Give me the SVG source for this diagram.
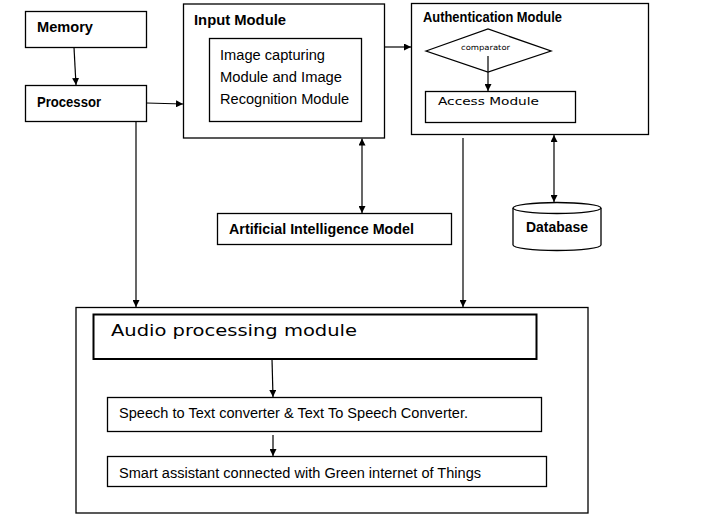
<svg xmlns="http://www.w3.org/2000/svg" width="702" height="523" viewBox="0 0 702 523">
<defs>
<marker id="ah" viewBox="0 0 10 10" refX="10" refY="5" markerWidth="7" markerHeight="7" markerUnits="userSpaceOnUse" orient="auto-start-reverse">
<path d="M0,0 L10,5 L0,10 Z" fill="#000"/>
</marker>
<style>
.box{fill:#fff;stroke:#000;stroke-width:1.3}
.b{font-family:"Liberation Sans",Arial,sans-serif;font-weight:bold;font-size:14px;fill:#000}
.n{font-family:"Liberation Sans",Arial,sans-serif;font-size:14px;fill:#000}
.v{font-family:"DejaVu Sans",Verdana,sans-serif;fill:#000}
.c{stroke:#000;stroke-width:1.2;fill:none}
</style>
</defs>
<rect width="702" height="523" fill="#fff"/>

<g id="memory">
<rect class="box" x="25.5" y="11.5" width="121" height="36"/>
<text class="b" x="37" y="32" textLength="56" lengthAdjust="spacingAndGlyphs">Memory</text>
</g>
<g id="processor">
<rect class="box" x="25.5" y="85.5" width="121" height="36"/>
<text class="b" x="37" y="107" textLength="64" lengthAdjust="spacingAndGlyphs">Processor</text>
</g>
<g id="input-module">
<rect class="box" x="183.5" y="4" width="201" height="134"/>
<text class="b" x="194" y="25" textLength="92" lengthAdjust="spacingAndGlyphs">Input Module</text>
<rect class="box" x="209.5" y="38.5" width="152" height="83"/>
<text class="n" x="220" y="60" textLength="105" lengthAdjust="spacingAndGlyphs">Image capturing</text>
<text class="n" x="220" y="82" textLength="122" lengthAdjust="spacingAndGlyphs">Module and Image</text>
<text class="n" x="220" y="104" textLength="129" lengthAdjust="spacingAndGlyphs">Recognition Module</text>
</g>
<g id="authentication-module">
<rect class="box" x="411.5" y="3.5" width="237" height="131"/>
<text class="b" x="423" y="22" font-size="13" textLength="139" lengthAdjust="spacingAndGlyphs">Authentication Module</text>
<polygon class="box" points="426,51 488,29 551,51 488,72"/>
<text class="v" x="461" y="50" font-size="7.5" textLength="49" lengthAdjust="spacingAndGlyphs">comparator</text>
<rect class="box" x="425.5" y="91.5" width="150" height="31"/>
<text class="v" x="438" y="105" font-size="10.5" textLength="101" lengthAdjust="spacingAndGlyphs">Access Module</text>
</g>
<g id="ai-model">
<rect class="box" x="217.5" y="213.5" width="234" height="31"/>
<text class="b" x="229" y="234" textLength="185" lengthAdjust="spacingAndGlyphs">Artificial Intelligence Model</text>
</g>
<g id="database">
<path class="box" d="M513,208 L513,245 A44,5.5 0 0 0 601,245 L601,208"/>
<ellipse class="box" cx="557" cy="208" rx="44" ry="5.5"/>
<text class="b" x="526" y="232" textLength="62" lengthAdjust="spacingAndGlyphs">Database</text>
</g>
<g id="audio-system">
<rect class="box" x="76" y="307.5" width="512" height="205.5"/>
<rect x="93.5" y="314.5" width="443" height="44.5" fill="#fff" stroke="#000" stroke-width="2"/>
<text class="v" x="111" y="336" font-size="16" textLength="246" lengthAdjust="spacingAndGlyphs">Audio processing module</text>
<rect class="box" x="107.5" y="397.5" width="434" height="34"/>
<text class="n" x="119" y="418" textLength="349" lengthAdjust="spacingAndGlyphs">Speech to Text converter &amp; Text To Speech Converter.</text>
<rect class="box" x="107.5" y="456.5" width="439" height="30"/>
<text class="n" x="119" y="478" textLength="362" lengthAdjust="spacingAndGlyphs">Smart assistant connected  with Green internet of Things</text>
</g>

<g id="connectors">
<line class="c" x1="74" y1="47.5" x2="76" y2="85" marker-end="url(#ah)"/>
<line class="c" x1="146.5" y1="103" x2="183" y2="104" marker-end="url(#ah)"/>
<line class="c" x1="384.5" y1="47" x2="411" y2="47" marker-end="url(#ah)"/>
<line class="c" x1="488" y1="56" x2="488" y2="91" marker-end="url(#ah)"/>
<line class="c" x1="362" y1="138.5" x2="362" y2="213" marker-start="url(#ah)" marker-end="url(#ah)"/>
<line class="c" x1="554" y1="135" x2="554" y2="202" marker-start="url(#ah)" marker-end="url(#ah)"/>
<line class="c" x1="463" y1="138" x2="463" y2="307" marker-end="url(#ah)"/>
<line class="c" x1="136" y1="121.5" x2="136" y2="307" marker-end="url(#ah)"/>
<line class="c" x1="272" y1="359" x2="273" y2="397" marker-end="url(#ah)"/>
<line class="c" x1="273" y1="435" x2="273" y2="456" marker-end="url(#ah)"/>
</g>
</svg>
